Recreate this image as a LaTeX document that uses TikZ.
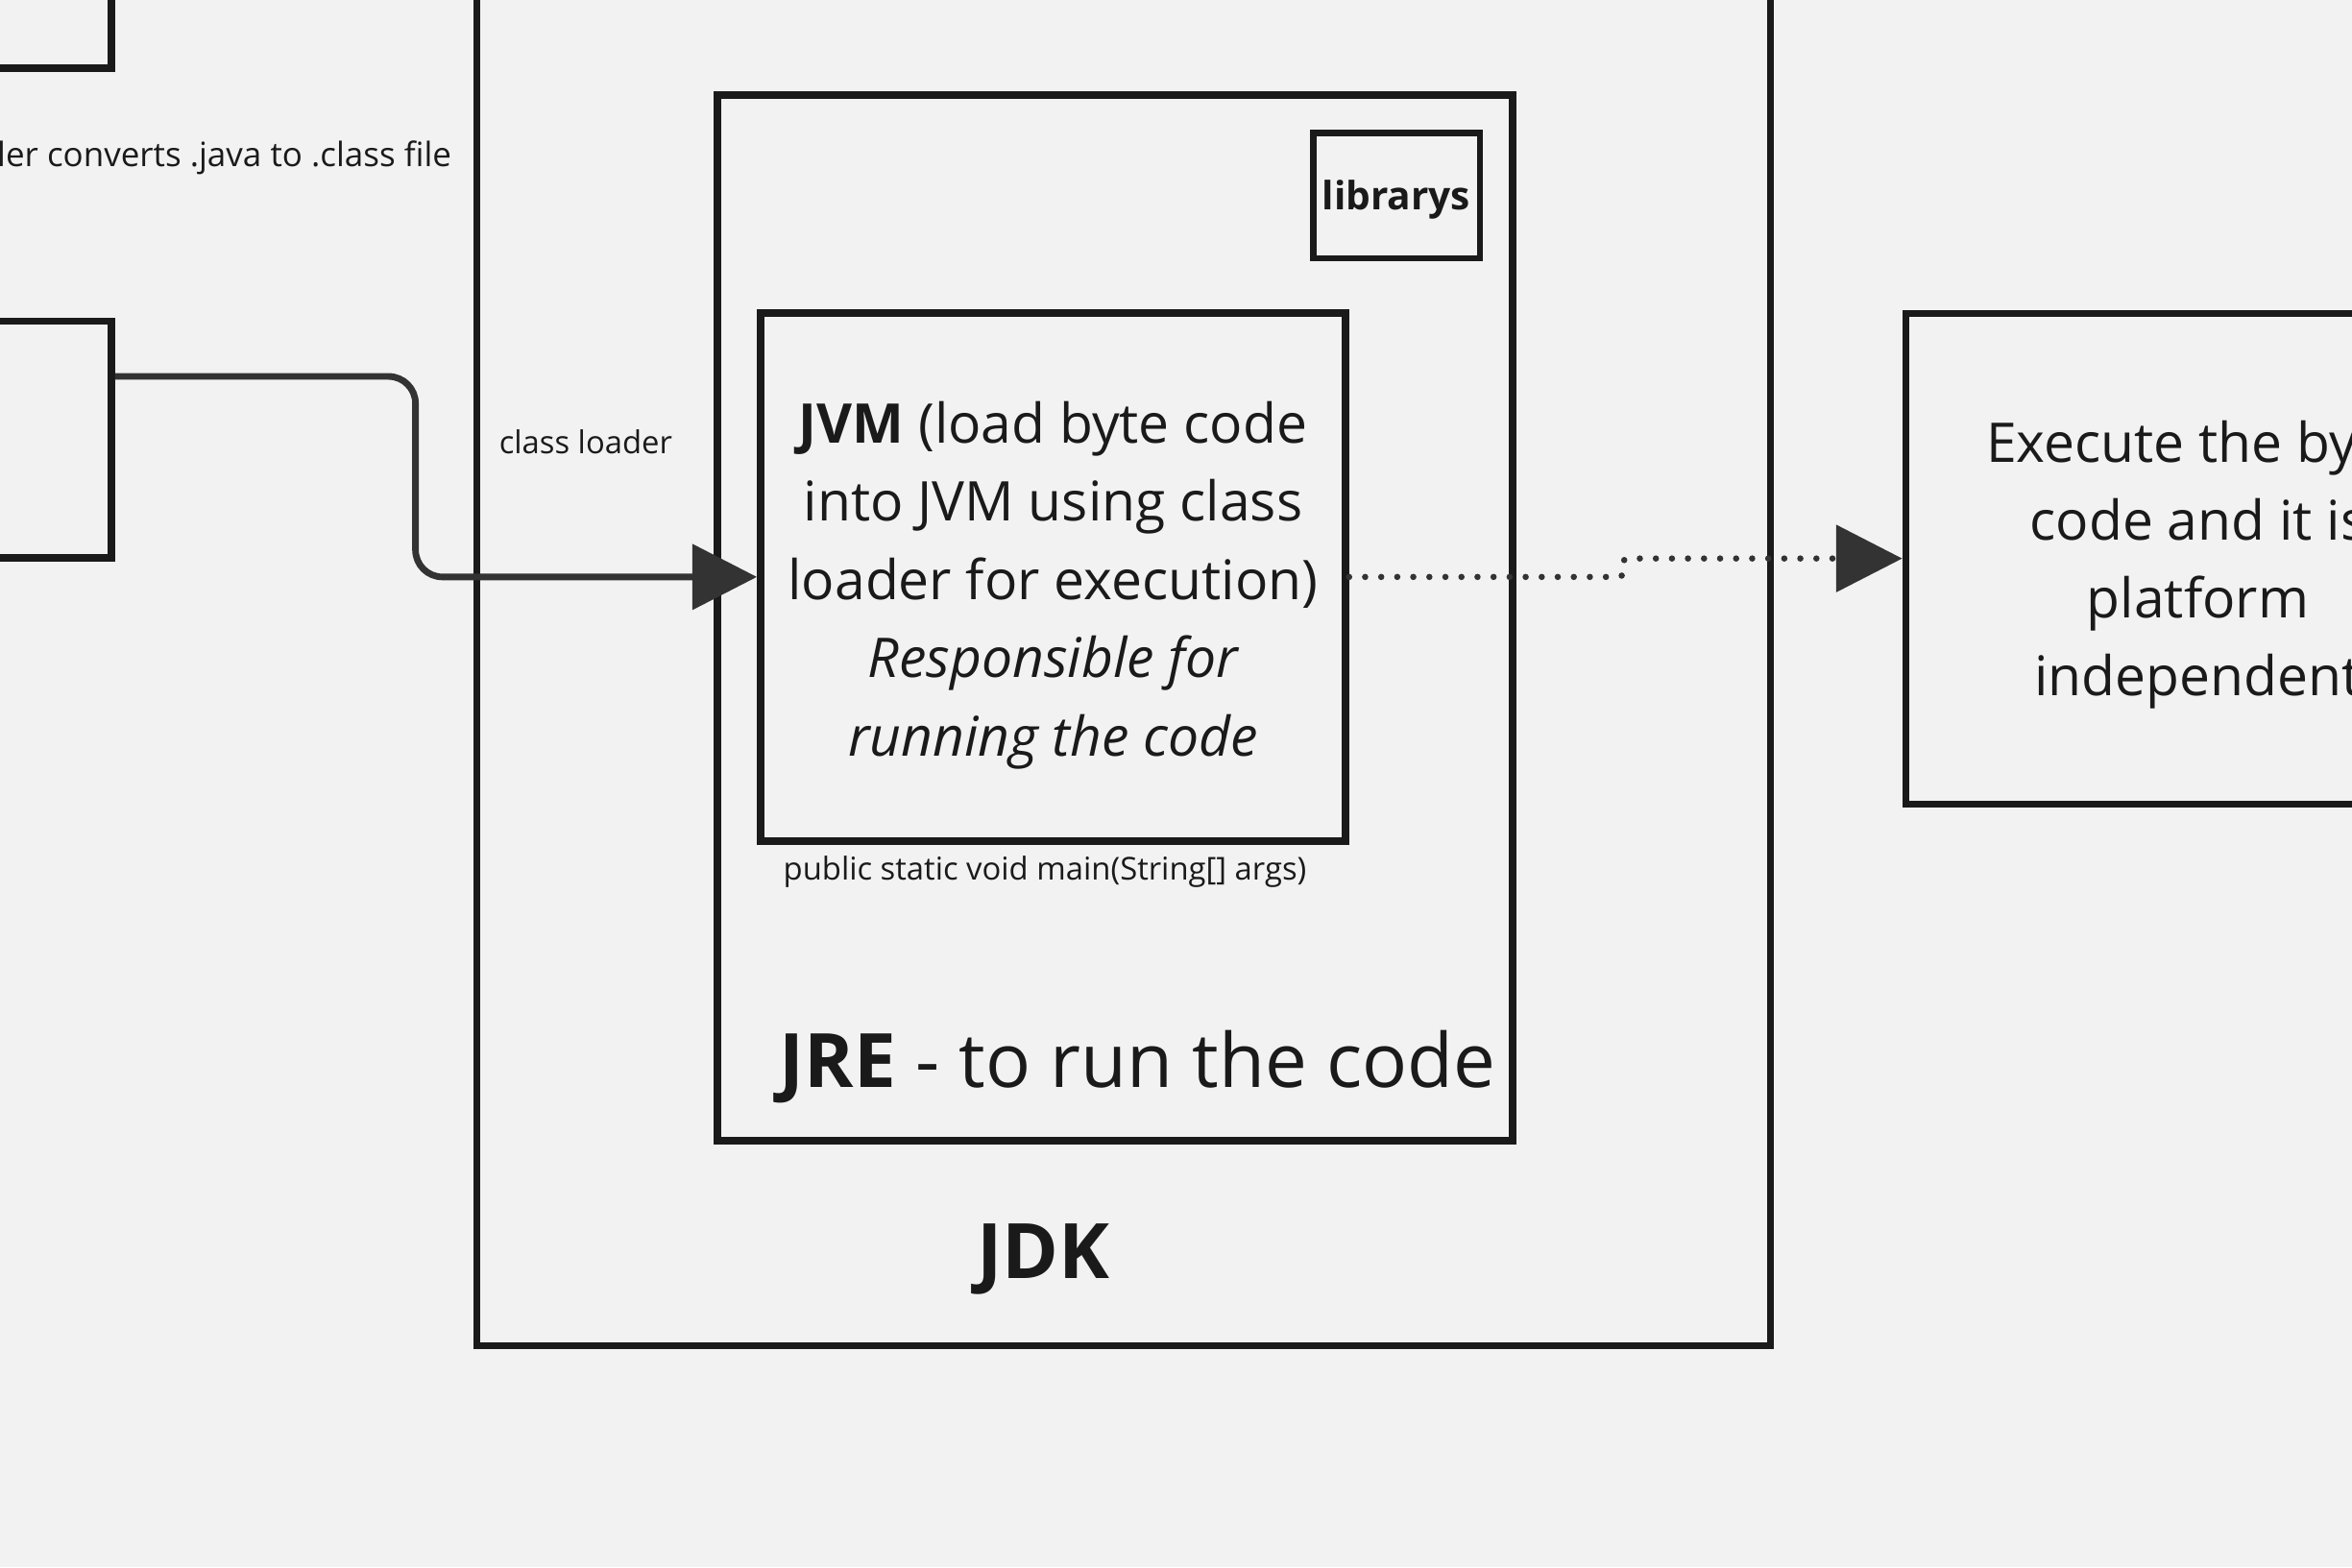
\documentclass[tikz,border=0pt]{standalone}
\usepackage{fontspec}
\setmainfont{Open Sans}
\usetikzlibrary{arrows.meta}
\definecolor{bg}{HTML}{F2F2F2}
\definecolor{ink}{HTML}{1A1A1A}
\definecolor{conn}{HTML}{333333}
\newcommand\myfs[1]{\fontsize{#1}{#1}\selectfont}
\tikzset{
  box/.style={draw=ink, line width=4.8pt, inner sep=0pt, rectangle},
  txt/.style={inner sep=0pt, text=ink},
  solidconn/.style={draw=conn, line width=4.4pt, rounded corners=18pt,
    -{Triangle[length=43pt,width=43pt]}},
  dotconn/.style={draw=conn, line width=4.2pt, line cap=round,
    dash pattern=on 0pt off 10.7pt, rounded corners=3pt,
    -{Triangle[length=44pt,width=44pt]}},
}
\begin{document}
\begin{tikzpicture}[x=1pt,y=-1pt]
\useasboundingbox (0,0) rectangle (1568,1045);
\fill[bg] (0,0) rectangle (1568,1045);
\clip (0,0) rectangle (1568,1045);

% boxes
\node[box, minimum width=174.3pt, minimum height=145.5pt] (left1) at (-12.85,-27.25) {};
\node[box, minimum width=174.3pt, minimum height=158pt] (left2) at (-12.85,293) {};
\node[box, minimum width=862.5pt, minimum height=997.2pt] (jdk) at (749,398.6) {};
\node[box, minimum width=530pt, minimum height=697.1pt] (jre) at (743.3,411.95) {};
\node[box, line width=4.3pt, minimum width=110.9pt, minimum height=83.4pt] (lib) at (931.15,130.5) {};
\node[box, minimum width=390pt, minimum height=352.2pt] (jvm) at (702,384.7) {};
\node[box, line width=4.4pt, minimum width=390pt, minimum height=327.2pt] (exec) at (1465.35,372.4) {};

% texts
\node[txt, anchor=base west, font=\myfs{22.4}] (compl) at (-2,111) {ler converts .java to .class file};
\node[txt, anchor=base, font=\myfs{21}] (cl) at (390.5,302.4) {class loader};
\node[txt, anchor=base, font=\myfs{26}\bfseries] (libt) at (930.8,139.7) {librarys};

\node[txt, anchor=base, font=\myfs{36.5}] (j1) at (702,295.3) {\textbf{JVM} (load byte code};
\node[txt, anchor=base, font=\myfs{36.5}] (j2) at (702,347.5) {into JVM using class};
\node[txt, anchor=base, font=\myfs{36.5}] (j3) at (702,399.8) {loader for execution)};
\node[txt, anchor=base, font=\myfs{36.5}\itshape] (j4) at (702,452) {Responsible for};
\node[txt, anchor=base, font=\myfs{36.5}\itshape] (j5) at (702,504.3) {running the code};

\node[txt, anchor=base, font=\myfs{21}] (mainsig) at (696.6,586.6) {public static void main(String[] args)};
\node[txt, anchor=base, font=\myfs{50}] (jret) at (758.5,725.4) {\textbf{JRE} - to run the code};
\node[txt, anchor=base, font=\myfs{51}\bfseries] (jdkt) at (695.5,852.4) {JDK};

\node[txt, anchor=base west, font=\myfs{36.5}] (e1) at (1324,308) {Execute the by};
\node[txt, anchor=base west, font=\myfs{36.5}] (e2) at (1353,360) {code and it is};
\node[txt, anchor=base west, font=\myfs{36.5}] (e3) at (1391,412) {platform};
\node[txt, anchor=base west, font=\myfs{36.5}] (e4) at (1356,464) {independent};

% connectors
\draw[solidconn] ([yshift=42pt]left2.east) -- (277,251) -- (277,384.7) -- (jvm.west);
\draw[dotconn] (jvm.east) -- (1082,384.7) -- (1082,372.4) -- (exec.west);
\end{tikzpicture}
\end{document}
